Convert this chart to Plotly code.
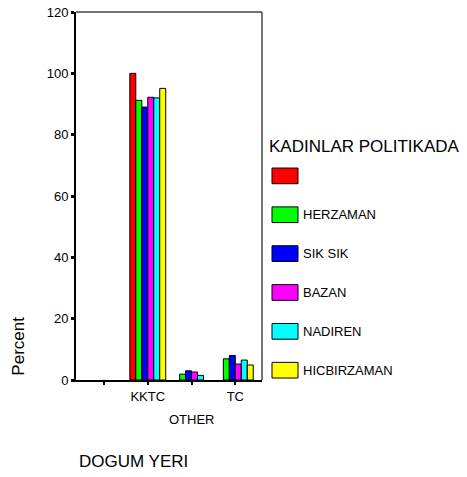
import plotly.graph_objects as go

# ---- data ----
categories = [" ", "KKTC", "OTHER", "TC"]
tick_labels = ["", "KKTC", "", "TC"]
staggered_label = "OTHER"
series_names = [" ", "HERZAMAN", "SIK SIK", "BAZAN", "NADIREN", "HICBIRZAMAN"]
blank_vals = [0, 100.0, 0, 0]
herzaman_vals = [0, 91.2, 1.9, 6.9]
siksik_vals = [0, 89.0, 3.0, 8.0]
bazan_vals = [0, 92.2, 2.6, 5.2]
nadiren_vals = [0, 92.0, 1.5, 6.5]
hicbirzaman_vals = [0, 95.1, 0, 4.9]
y_ticks = [0, 20, 40, 60, 80, 100, 120]

series_values = [blank_vals, herzaman_vals, siksik_vals, bazan_vals, nadiren_vals, hicbirzaman_vals]
colors = ["#FF0000", "#00FF00", "#0000FF", "#FF00FF", "#00FFFF", "#FFFF00"]

W, H = 467, 477
L, R, T, B = 76, 262, 5, 380  # plot area pixel edges
pw, ph = R - L, B - T

def px(x):
    return (x - L) / pw

def py(y):
    return (B - y) / ph

fig = go.Figure()
for name, vals, col in zip(series_names, series_values, colors):
    fig.add_trace(go.Bar(
        x=categories, y=vals, name=name,
        marker=dict(color=col,
                    line=dict(color="black", width=[1 if v > 0 else 0 for v in vals])),
        showlegend=False, hoverinfo="skip",
    ))

font = "Arial, Liberation Sans, sans-serif"

fig.update_layout(
    width=W, height=H,
    margin=dict(l=L, r=W - R, t=T, b=H - B),
    paper_bgcolor="white", plot_bgcolor="white",
    barmode="group", bargap=0.18, bargroupgap=0,
    font=dict(family=font, size=13, color="black"),
    xaxis=dict(
        type="category", categoryorder="array", categoryarray=categories,
        range=[-0.64, 3.61],
        tickvals=categories, ticktext=tick_labels,
        showline=True, linecolor="black", linewidth=2,
        ticks="outside", ticklen=3, tickwidth=2, tickcolor="black",
        showgrid=False, zeroline=False,
        tickfont=dict(size=13),
    ),
    yaxis=dict(
        range=[0, 120.01], tickvals=y_ticks,
        showline=True, linecolor="black", linewidth=2,
        ticks="outside", ticklen=3, tickwidth=3, tickcolor="black",
        showgrid=False, zeroline=False,
        ticklabeloverflow="allow",
        tickfont=dict(size=13),
    ),
)

shapes = [
    dict(type="line", xref="paper", yref="paper", x0=0, x1=1, y0=1, y1=1,
         line=dict(color="#444", width=1.5)),
    dict(type="line", xref="paper", yref="paper", x0=1, x1=1, y0=0, y1=1,
         line=dict(color="#444", width=1.5)),
]
annotations = []

# staggered category label
annotations.append(dict(x=staggered_label, y=py(420), xref="x", yref="paper",
                        text=staggered_label, showarrow=False,
                        xanchor="center", yanchor="middle", font=dict(size=13)))

# axis titles
annotations.append(dict(x=px(77), y=py(463), xref="paper", yref="paper",
                        text="DOGUM YERI", showarrow=False,
                        xanchor="left", yanchor="middle", font=dict(size=17)))
annotations.append(dict(x=px(19), y=py(346), xref="paper", yref="paper",
                        text="Percent", showarrow=False, textangle=-90,
                        xanchor="center", yanchor="middle", font=dict(size=17)))

# legend title
annotations.append(dict(x=px(267), y=py(142), xref="paper", yref="paper",
                        text="KADINLAR POLITIKADA", showarrow=False,
                        xanchor="left", yanchor="middle", font=dict(size=17)))

# legend entries
box_top0, spacing, box_h = 164, 39.6, 16
for i, (name, col) in enumerate(zip(series_names, colors)):
    top = box_top0 + i * spacing
    shapes.append(dict(type="rect", xref="paper", yref="paper",
                       x0=px(272), x1=px(298), y0=py(top + box_h), y1=py(top),
                       fillcolor=col, line=dict(color="black", width=1)))
    annotations.append(dict(x=px(301), y=py(top + box_h / 2), xref="paper", yref="paper",
                            text=name, showarrow=False,
                            xanchor="left", yanchor="middle", font=dict(size=13)))

fig.update_layout(shapes=shapes, annotations=annotations)
fig.write_html("out.html", config={"displayModeBar": False},
               post_script="document.body.style.margin='0';")
